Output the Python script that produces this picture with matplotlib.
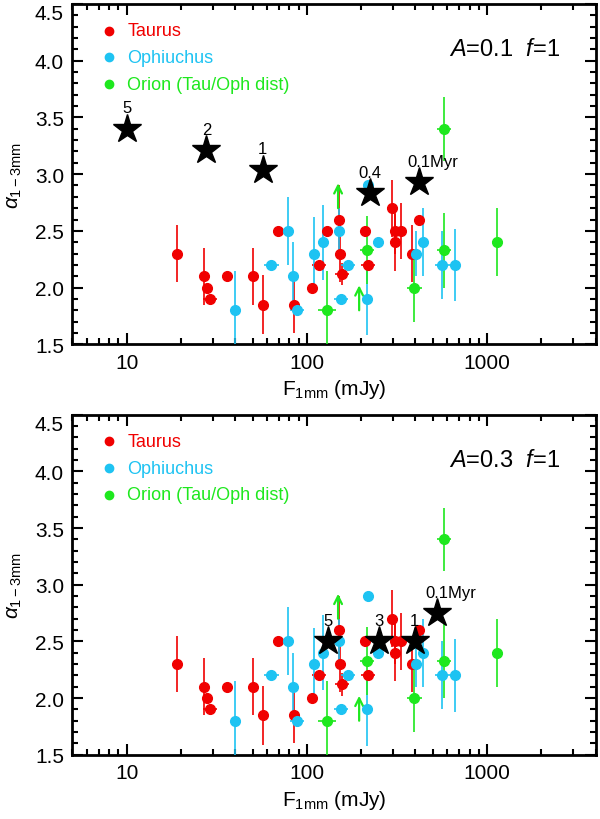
import numpy as np
import matplotlib
matplotlib.use("Agg")
import matplotlib.pyplot as plt

plt.rcParams['font.family'] = ['Liberation Sans', 'DejaVu Sans']
plt.rcParams['mathtext.fontset'] = 'custom'
plt.rcParams['mathtext.rm'] = 'Liberation Sans'
plt.rcParams['mathtext.it'] = 'Liberation Sans:italic'

RED = '#f00000'
CYAN = '#1ec3f2'
GREEN = '#1ee81e'

# ---------------- data (F_1mm in mJy, alpha_1-3mm, yerr, xerr in dex) ----------------
tau_F = [19, 27, 28, 29, 36, 50, 57, 69, 85, 107, 117, 129, 150, 152, 157,
         210, 219, 298, 310, 332, 310, 381, 418]
tau_a = [2.30, 2.10, 2.00, 1.90, 2.10, 2.10, 1.85, 2.50, 1.85, 2.00, 2.20, 2.50, 2.60, 2.30, 2.12,
         2.50, 2.20, 2.70, 2.50, 2.50, 2.40, 2.30, 2.60]
tau_ye = [0.25, 0.25, 0, 0, 0, 0.25, 0.26, 0, 0.25, 0, 0, 0, 0.30, 0.25, 0.10,
          0, 0, 0.25, 0.20, 0.25, 0.25, 0.25, 0]
tau_xe = [0, 0, 0, 0.04, 0, 0, 0, 0, 0.02, 0, 0.04, 0, 0, 0, 0.04,
          0, 0.04, 0.03, 0, 0, 0, 0, 0]

oph_F = [40, 63.5, 78.5, 84, 88, 110, 123, 150, 155, 169, 215, 218, 249, 402, 440, 563, 660]
oph_a = [1.80, 2.20, 2.50, 2.10, 1.80, 2.30, 2.40, 2.50, 1.90, 2.20, 1.90, 2.90, 2.40,
         2.30, 2.40, 2.20, 2.20]
oph_ye = [0.35, 0, 0.30, 0.30, 0, 0.32, 0.33, 0.20, 0, 0, 0.32, 0, 0, 0.20, 0.30, 0.30, 0.32]
oph_xe = [0, 0.04, 0, 0, 0.04, 0, 0, 0, 0.04, 0.04, 0, 0, 0, 0, 0, 0.04, 0.03]

ori_F = [129, 216, 395, 575, 575, 1135]
ori_a = [1.80, 2.33, 2.00, 2.33, 3.40, 2.40]
ori_ye = [0.35, 0.30, 0.30, 0.33, 0.28, 0.30]
ori_xe = [0.05, 0.04, 0.04, 0.04, 0.04, 0.03]

# lower limits (Orion): flux, alpha start, alpha arrow tip
lim_F = [149, 195]
lim_a0 = [2.70, 1.80]
lim_a1 = [2.92, 2.02]

# model tracks (stars) for each panel
top_F = [10, 27.7, 57, 225, 418]
top_a = [3.40, 3.21, 3.04, 2.83, 2.93]
top_lab = ['5', '2', '1', '0.4', '0.1Myr']

bot_F = [131, 250, 396, 526]
bot_a = [2.50, 2.50, 2.50, 2.75]
bot_lab = ['5', '3', '1', '0.1Myr']

yticks = [1.5, 2.0, 2.5, 3.0, 3.5, 4.0, 4.5]

panels = [
    (top_F, top_a, top_lab, r'$\mathit{A}$=0.1  $\mathit{f}$=1'),
    (bot_F, bot_a, bot_lab, r'$\mathit{A}$=0.3  $\mathit{f}$=1'),
]


def xerr_lin(F, dex):
    F = np.array(F, dtype=float)
    d = np.array(dex, dtype=float)
    return np.vstack([F * (1 - 10 ** -d), F * (10 ** d - 1)])


fig = plt.figure(figsize=(6, 8.2), dpi=100)
rects = [[0.1205, 0.5789, 0.8723, 0.4150], [0.1205, 0.0784, 0.8723, 0.4146]]

for rect, (sF, sa, slab, title) in zip(rects, panels):
    ax = fig.add_axes(rect)
    ax.set_xscale('log')

    for F, a, ye, xe, c in [(tau_F, tau_a, tau_ye, tau_xe, RED),
                            (oph_F, oph_a, oph_ye, oph_xe, CYAN),
                            (ori_F, ori_a, ori_ye, ori_xe, GREEN)]:
        ax.errorbar(F, a, yerr=ye, xerr=xerr_lin(F, xe), fmt='o', ms=7, color=c,
                    mec=c, elinewidth=1.2, capsize=0, zorder=3)

    for F, a0, a1 in zip(lim_F, lim_a0, lim_a1):
        ax.annotate('', xy=(F, a1), xytext=(F, a0),
                    arrowprops=dict(arrowstyle='->', color=GREEN, lw=1.6,
                                    mutation_scale=14, shrinkA=0, shrinkB=0), zorder=3)

    ax.plot(sF, sa, '*', color='k', ms=21, zorder=5)
    for F, a, lab in zip(sF, sa, slab):
        dx = 10 if lab.endswith('Myr') else 0
        ax.annotate(lab, (F, a), xytext=(dx, 15), textcoords='offset points',
                    ha='center', va='center', fontsize=12, zorder=6)

    ax.set_xlim(5, 4000)
    ax.set_ylim(1.5, 4.5)
    ax.set_xticks([10, 100, 1000])
    ax.set_xticklabels(['10', '100', '1000'])
    ax.set_yticks(yticks)
    ax.set_yticklabels(['%.1f' % v for v in yticks])
    ax.yaxis.set_minor_locator(matplotlib.ticker.MultipleLocator(0.1))
    ax.tick_params(which='both', direction='in', top=True, right=True, labelsize=15,
                   width=1.5, colors='k')
    ax.tick_params(which='major', length=8, pad=6)
    ax.tick_params(which='minor', length=4)
    for s in ax.spines.values():
        s.set_linewidth(2)
    # top label sits just inside the frame, as in the original
    ax.get_yticklabels()[-1].set_verticalalignment('top')

    ax.set_xlabel(r'F$_{\rm 1mm}$ (mJy)', fontsize=15, labelpad=4)
    ax.set_ylabel(r'$\alpha_{\rm 1-3mm}$', fontsize=15, labelpad=8)

    # legend
    for i, (lab, c) in enumerate([('Taurus', RED), ('Ophiuchus', CYAN),
                                  ('Orion (Tau/Oph dist)', GREEN)]):
        y = 0.922 - i * 0.079
        ax.plot([0.070], [y], 'o', ms=6, color=c, transform=ax.transAxes, clip_on=False)
        ax.text(0.105, y, lab, color=c, fontsize=13, va='center', transform=ax.transAxes)

    ax.text(0.826, 0.868, title, fontsize=17, ha='center', va='center',
            transform=ax.transAxes)

fig.savefig('out.png', dpi=100)
